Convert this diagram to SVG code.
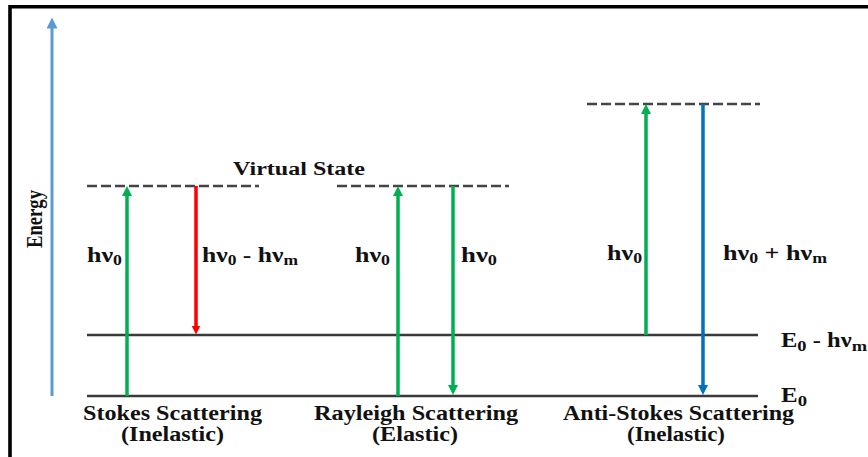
<svg xmlns="http://www.w3.org/2000/svg" width="868" height="457" viewBox="0 0 868 457">
  <style>
    .lbl { font-family: "Liberation Serif", "Times New Roman", serif; font-weight: bold; fill: #111; }
    .level { stroke: #3a3a3a; stroke-width: 2.5; fill: none; }
    .virtual { stroke: #444; stroke-width: 2.6; stroke-dasharray: 10 4; fill: none; }
    .arr { stroke-width: 3.5; fill: none; }
    .green { stroke: #00b050; }
    .red { stroke: #ff0000; }
    .blue { stroke: #0070c0; }
  </style>
  <defs>
    <marker id="ah-green" viewBox="0 0 10 10" refX="5" refY="5" markerWidth="10" markerHeight="10" markerUnits="userSpaceOnUse" orient="auto">
      <path d="M0,0 L10,5 L0,10 z" fill="#00b050"/>
    </marker>
    <marker id="ah-red" viewBox="0 0 10 10" refX="5" refY="5" markerWidth="9" markerHeight="9" markerUnits="userSpaceOnUse" orient="auto">
      <path d="M0,0 L10,5 L0,10 z" fill="#ff0000"/>
    </marker>
    <marker id="ah-blue" viewBox="0 0 10 10" refX="5" refY="5" markerWidth="10" markerHeight="10" markerUnits="userSpaceOnUse" orient="auto">
      <path d="M0,0 L10,5 L0,10 z" fill="#0070c0"/>
    </marker>
    <marker id="ah-axis" viewBox="0 0 10 10" refX="5" refY="5" markerWidth="11" markerHeight="11" markerUnits="userSpaceOnUse" orient="auto">
      <path d="M0,0 L10,5 L0,10 z" fill="#5b9bd5"/>
    </marker>
  </defs>

  <rect width="868" height="457" fill="#fff"/>
  <!-- frame (left and top edges) -->
  <path d="M10,457 V6.7 H868" stroke="#000" stroke-width="3.6" fill="none"/>

  <!-- energy axis -->
  <g id="axis">
    <line x1="52" y1="396" x2="52" y2="23" stroke="#5b9bd5" stroke-width="3" marker-end="url(#ah-axis)"/>
    <text class="lbl" font-size="19" text-anchor="middle" textLength="58" lengthAdjust="spacingAndGlyphs" transform="translate(42,219) scale(1.25,1) rotate(-90)">Energy</text>
  </g>

  <!-- energy levels -->
  <g id="levels">
    <line class="level" x1="87" y1="335" x2="758" y2="335"/>
    <line class="level" x1="87" y1="396" x2="758" y2="396"/>
    <line class="virtual" x1="87" y1="186" x2="259" y2="186"/>
    <line class="virtual" x1="337" y1="186" x2="509" y2="186"/>
    <line class="virtual" x1="587" y1="104" x2="760" y2="104"/>
    <text class="lbl" x="781" y="347" font-size="20" textLength="86" lengthAdjust="spacingAndGlyphs">E<tspan font-size="15" dy="4">0</tspan><tspan dy="-4"> - hν</tspan><tspan font-size="15" dy="4">m</tspan></text>
    <text class="lbl" x="781" y="402" font-size="20" textLength="26" lengthAdjust="spacingAndGlyphs">E<tspan font-size="15" dy="4">0</tspan></text>
  </g>

  <!-- transition arrows -->
  <g id="connectors">
    <line class="arr green" x1="127" y1="396" x2="127" y2="191" marker-end="url(#ah-green)"/>
    <line class="arr red" x1="196" y1="186" x2="196" y2="330" marker-end="url(#ah-red)"/>
    <line class="arr green" x1="398" y1="396" x2="398" y2="191" marker-end="url(#ah-green)"/>
    <line class="arr green" x1="453" y1="186" x2="453" y2="390" marker-end="url(#ah-green)"/>
    <line class="arr green" x1="646" y1="335" x2="646" y2="109" marker-end="url(#ah-green)"/>
    <line class="arr blue" x1="703" y1="104" x2="703" y2="390" marker-end="url(#ah-blue)"/>
  </g>

  <!-- Stokes scattering -->
  <g id="stokes">
    <text class="lbl" x="233" y="175" font-size="18" textLength="132" lengthAdjust="spacingAndGlyphs">Virtual State</text>
    <text class="lbl" x="87" y="262" font-size="22" textLength="35" lengthAdjust="spacingAndGlyphs">hν<tspan font-size="15" dy="3">0</tspan></text>
    <text class="lbl" x="202" y="262" font-size="22" textLength="96" lengthAdjust="spacingAndGlyphs">hν<tspan font-size="15" dy="3">0</tspan><tspan dy="-3"> - hν</tspan><tspan font-size="15" dy="3">m</tspan></text>
    <text class="lbl" x="83" y="420" font-size="20" textLength="179" lengthAdjust="spacingAndGlyphs">Stokes Scattering</text>
    <text class="lbl" x="121" y="441" font-size="20" textLength="103" lengthAdjust="spacingAndGlyphs">(Inelastic)</text>
  </g>

  <!-- Rayleigh scattering -->
  <g id="rayleigh">
    <text class="lbl" x="355" y="262" font-size="22" textLength="35" lengthAdjust="spacingAndGlyphs">hν<tspan font-size="15" dy="3">0</tspan></text>
    <text class="lbl" x="461" y="262" font-size="22" textLength="36" lengthAdjust="spacingAndGlyphs">hν<tspan font-size="15" dy="3">0</tspan></text>
    <text class="lbl" x="314" y="420" font-size="20" textLength="204" lengthAdjust="spacingAndGlyphs">Rayleigh Scattering</text>
    <text class="lbl" x="372" y="441" font-size="20" textLength="86" lengthAdjust="spacingAndGlyphs">(Elastic)</text>
  </g>

  <!-- Anti-Stokes scattering -->
  <g id="anti-stokes">
    <text class="lbl" x="607" y="260" font-size="22" textLength="35" lengthAdjust="spacingAndGlyphs">hν<tspan font-size="15" dy="3">0</tspan></text>
    <text class="lbl" x="723" y="260" font-size="22" textLength="104" lengthAdjust="spacingAndGlyphs">hν<tspan font-size="15" dy="3">0</tspan><tspan dy="-3"> + hν</tspan><tspan font-size="15" dy="3">m</tspan></text>
    <text class="lbl" x="563" y="420" font-size="20" textLength="231" lengthAdjust="spacingAndGlyphs">Anti-Stokes Scattering</text>
    <text class="lbl" x="627" y="441" font-size="20" textLength="98" lengthAdjust="spacingAndGlyphs">(Inelastic)</text>
  </g>
</svg>
